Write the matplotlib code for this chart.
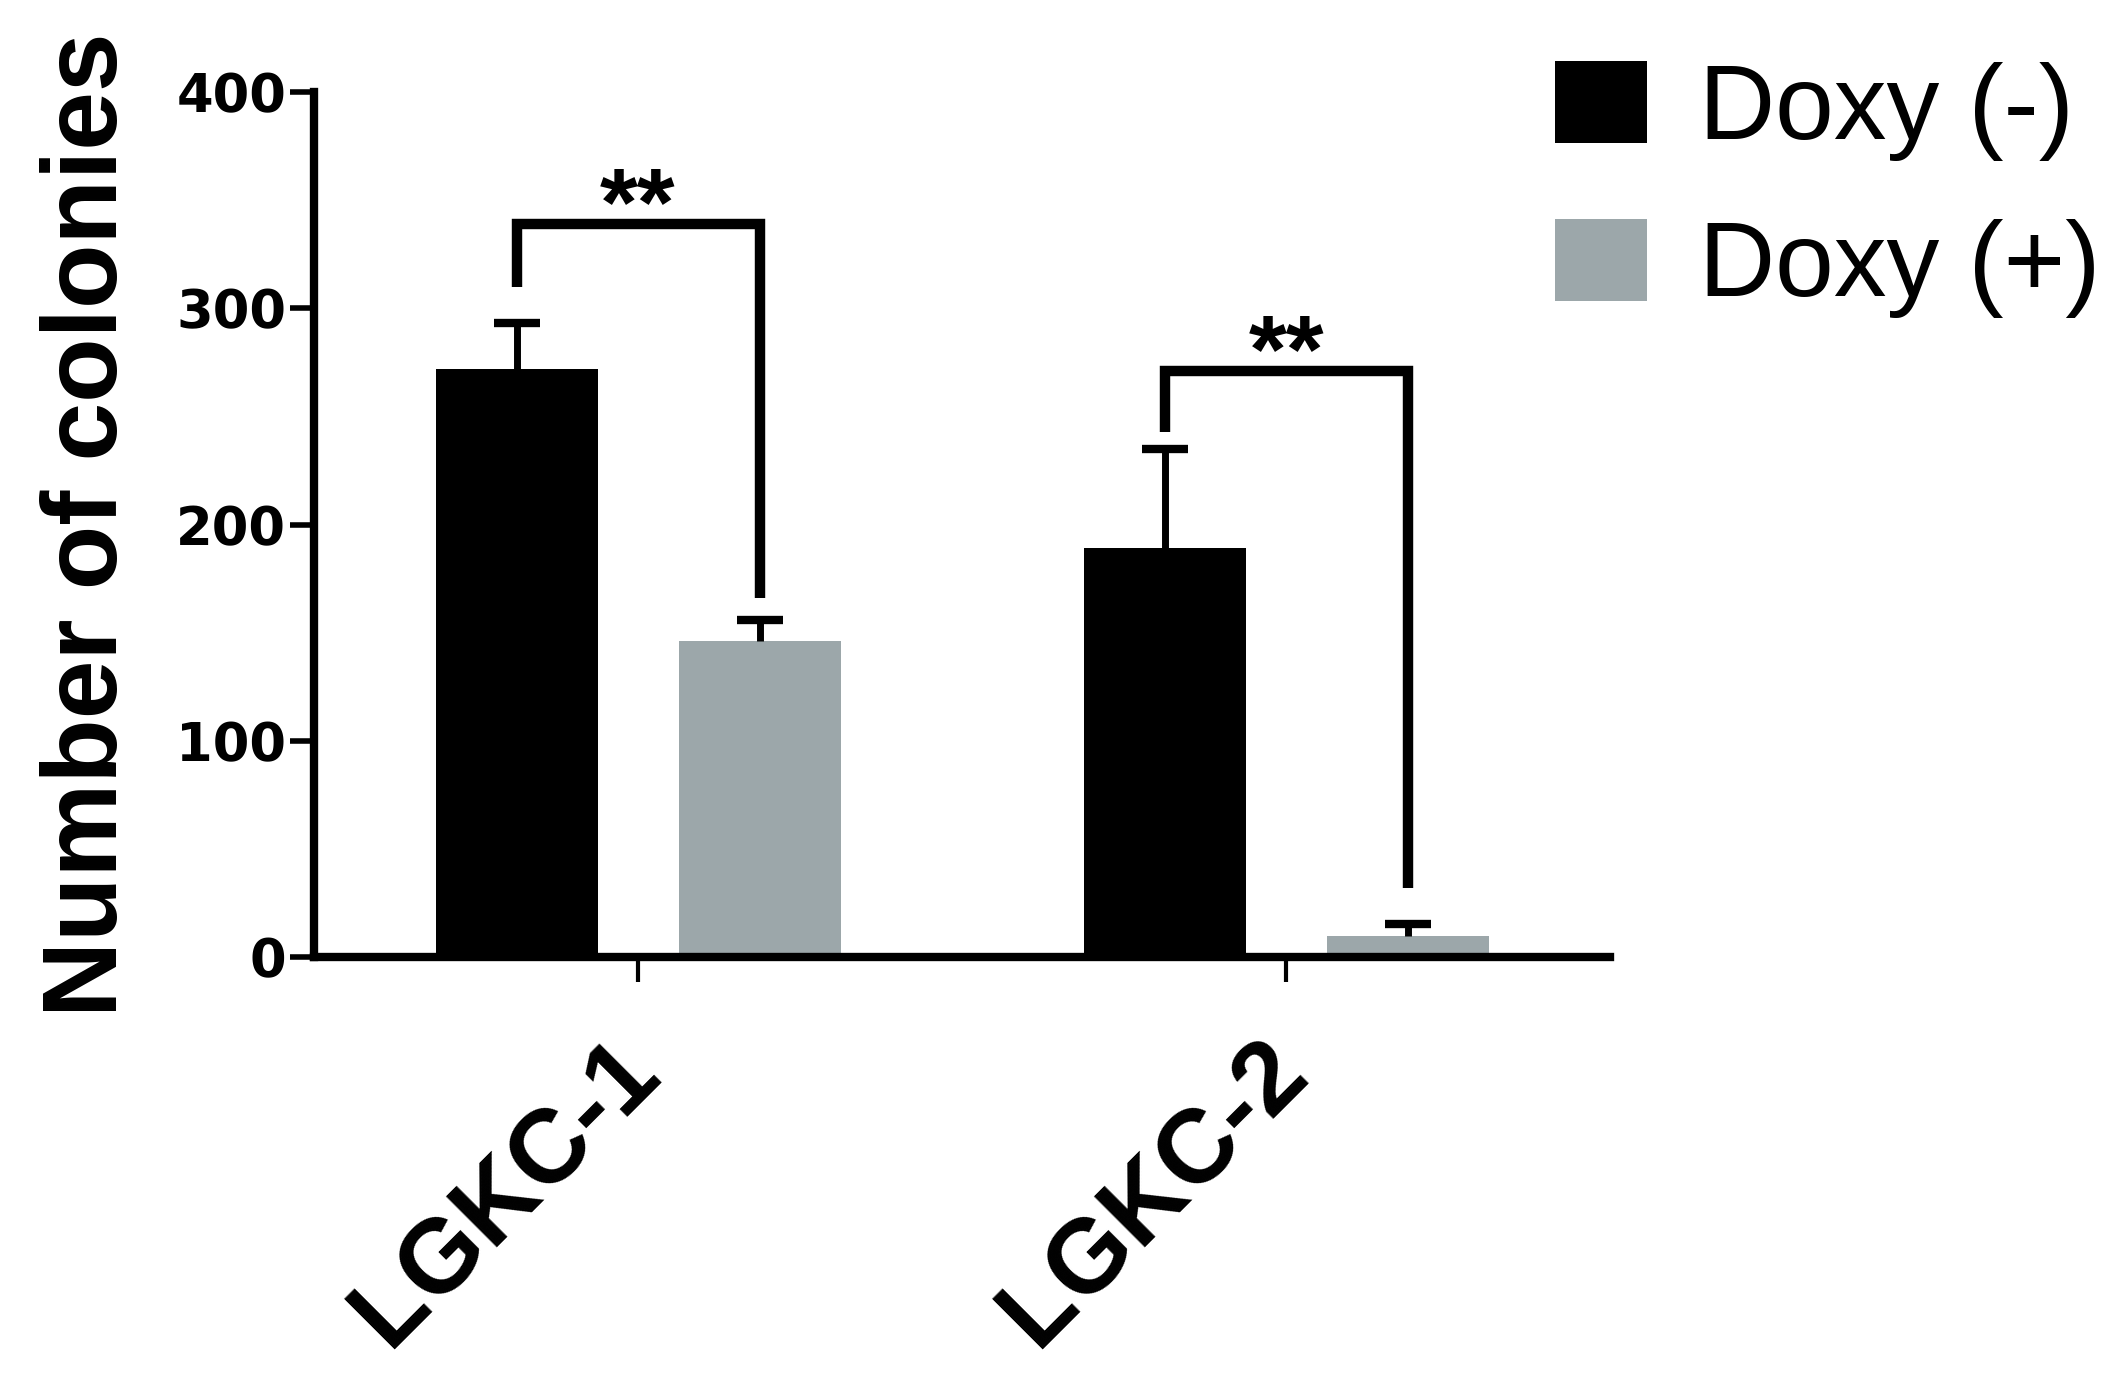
import numpy as np
import matplotlib.pyplot as plt
from matplotlib.transforms import ScaledTranslation

# Число колоний по группам
groups = ['LGKC-1', 'LGKC-2']
doxy_minus = [272, 189]
doxy_minus_err = [21, 46]
doxy_plus = [146, 9.5]
doxy_plus_err = [10, 6]

# Уровни скобок значимости
bracket_top = [339, 271]
bracket_left_end = [310, 243]
bracket_right_end = [166, 32]
stars = ['**', '**']

black = '#000000'
grey = '#9ca7aa'

plt.rcParams['font.family'] = ['Liberation Sans', 'DejaVu Sans']

fig = plt.figure(figsize=(21.13, 13.84), dpi=100)
ax = fig.add_axes([0.1486, 0.3085, 0.6134, 0.625])

x = np.arange(len(groups))
w = 0.25
off = 0.1875
xm = x - off
xp = x + off

ax.bar(xm, doxy_minus, w, color=black, label='Doxy (-)')
ax.bar(xp, doxy_plus, w, color=grey, label='Doxy (+)')

# Планки погрешностей только вверх
for xs, v, e in [(xm, doxy_minus, doxy_minus_err), (xp, doxy_plus, doxy_plus_err)]:
    v = np.array(v)
    e = np.array(e)
    ax.vlines(xs, v, v + e, color='black', lw=5)
    ax.plot(xs, v + e, ls='none', marker='_', markersize=33, mew=6, color='black')

# Скобки и звёздочки
for i in range(len(groups)):
    ax.plot([xm[i], xm[i], xp[i], xp[i]],
            [bracket_left_end[i], bracket_top[i], bracket_top[i], bracket_right_end[i]],
            color='black', lw=7.5, solid_joinstyle='miter', solid_capstyle='butt')
    ax.text(x[i], bracket_top[i] - 5, stars[i], ha='center', va='baseline',
            fontsize=70, fontweight='bold')

ax.set_xlim(-0.5, 1.5)
ax.set_ylim(0, 400)
ax.set_yticks([0, 100, 200, 300, 400])
ax.set_xticks(x)
ax.set_xticklabels([])

# Подписи групп под углом 45°
lab_tr = ax.get_xaxis_transform() + ScaledTranslation(0.24, -1.18, fig.dpi_scale_trans)
for xi, g in zip(x, groups):
    ax.text(xi, 0, g, transform=lab_tr, rotation=45, ha='right', va='baseline',
            rotation_mode='anchor', fontsize=75, fontweight='bold', clip_on=False)

for lab in ax.get_yticklabels():
    lab.set_fontfamily('DejaVu Sans')
    lab.set_fontweight('bold')
    lab.set_fontsize(38)

ax.spines['top'].set_visible(False)
ax.spines['right'].set_visible(False)
ax.spines['left'].set_linewidth(6)
ax.spines['bottom'].set_linewidth(6)
ax.tick_params(axis='y', length=17, width=4, pad=3)
ax.tick_params(axis='x', length=18, width=3, pad=0)

ax.set_ylabel('Number of colonies', fontsize=76, fontweight='bold')
ax.yaxis.set_label_coords(-0.135, 0.5)

ax.legend(loc='upper left', bbox_to_anchor=(0.7359, 0.956), bbox_transform=fig.transFigure,
          frameon=False, fontsize=76, handlelength=0.87, handleheight=0.82,
          handletextpad=0.49, labelspacing=0.55, borderpad=0, borderaxespad=0)

fig.savefig('out.png', dpi=100)
